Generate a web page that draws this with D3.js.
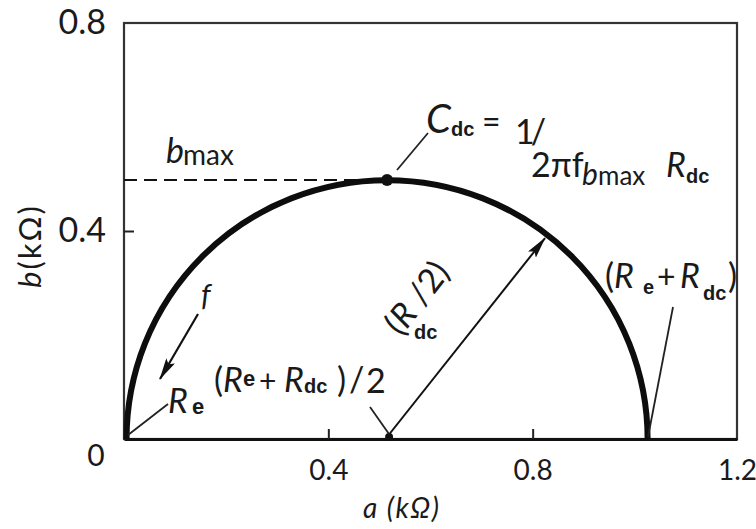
<!DOCTYPE html>
<html>
<head>
<meta charset="utf-8">
<script src="https://cdn.jsdelivr.net/npm/d3@7"></script>
<style>
  body { margin: 0; background: #fff; }
  svg text { font-family: Lato, "Open Sans", sans-serif; fill: #1a1a1a; }
  .sub { font-family: "Liberation Sans", Arial, sans-serif; font-weight: bold; }
</style>
</head>
<body>
<div id="chart"></div>
<script>
// Cole plot: semicircle from Re to Re + Rdc, peak at bmax
const aTicks = [0.4, 0.8, 1.2];
const bTicks = [0.4, 0.8];
const keyA = [0.005, 0.515, 1.025];   // Re, (Re+Rdc)/2, Re+Rdc
const keyB = [0, 0.498, 0];           // b at those points (bmax at the middle)
const radiusAngle = [52];             // direction of the Rdc/2 arrow, degrees

const width = 756, height = 529;
const x = d3.scaleLinear().domain([0, 1.2]).range([124, 737]);
const y = d3.scaleLinear().domain([0, 0.8]).range([439, 23]);

const svg = d3.select('#chart').append('svg')
  .attr('width', width).attr('height', height);

// frame
svg.append('rect')
  .attr('x', x(0)).attr('y', y(0.8))
  .attr('width', x(1.2) - x(0)).attr('height', y(0) - y(0.8))
  .attr('fill', 'none').attr('stroke', '#333').attr('stroke-width', 2.2);

// axes (inward ticks)
const xAxis = svg.append('g').attr('transform', 'translate(0,' + y(0) + ')')
  .call(d3.axisBottom(x).tickValues(aTicks).tickSizeInner(-10).tickSizeOuter(0)
    .tickPadding(21).tickFormat(d3.format('.1f')));
xAxis.select('.domain').attr('stroke', '#111').attr('stroke-width', 3);
xAxis.selectAll('.tick line').attr('stroke', '#222').attr('stroke-width', 2)
  .filter((d) => d === 1.2).remove();
xAxis.selectAll('text').attr('font-size', 28).attr('fill', '#1a1a1a')
  .style('font-family', 'Lato, sans-serif');

const yAxis = svg.append('g').attr('transform', 'translate(' + x(0) + ',0)')
  .call(d3.axisLeft(y).tickValues(bTicks).tickSizeInner(-10).tickSizeOuter(0)
    .tickPadding(18).tickFormat(d3.format('.1f')));
yAxis.select('.domain').remove();
yAxis.selectAll('.tick line').attr('stroke', '#222').attr('stroke-width', 2)
  .filter((d) => d === 0.8).remove();
yAxis.selectAll('text').attr('font-size', 34).attr('fill', '#1a1a1a')
  .style('font-family', 'Lato, sans-serif');

// origin label
svg.append('text').attr('x', x(0) - 28).attr('y', y(0) + 27)
  .attr('text-anchor', 'middle').attr('font-size', 30).text('0');

// axis titles
svg.append('text').attr('x', 363).attr('y', 518).attr('font-size', 28)
  .attr('letter-spacing', 1.5).attr('font-style', 'italic').text('a (kΩ)');
svg.append('text').attr('transform', 'translate(41,246) rotate(-90)')
  .attr('text-anchor', 'middle').attr('font-size', 31).attr('letter-spacing', 2)
  .html('<tspan font-style="italic">b</tspan>(kΩ)');

// bmax dashed line
svg.append('line')
  .attr('x1', x(0)).attr('x2', x(keyA[1]))
  .attr('y1', y(keyB[1])).attr('y2', y(keyB[1]))
  .attr('stroke', '#111').attr('stroke-width', 2).attr('stroke-dasharray', '13,7');

// semicircle
const rx = x(keyA[2]) - x(keyA[1]);
const ry = y(0) - y(keyB[1]);
svg.append('path')
  .attr('d', 'M' + x(keyA[0]) + ',' + y(keyB[0]) +
    ' A' + rx + ',' + ry + ' 0 0 1 ' + x(keyA[2]) + ',' + y(keyB[2]))
  .attr('fill', 'none').attr('stroke', '#0d0d0d').attr('stroke-width', 6);

// bmax dot
svg.append('circle').attr('cx', x(keyA[1])).attr('cy', y(keyB[1])).attr('r', 6)
  .attr('fill', '#111');

// arrow marker
svg.append('defs').append('marker')
  .attr('id', 'head').attr('markerUnits', 'userSpaceOnUse')
  .attr('viewBox', '0 -5 22 10').attr('refX', 21).attr('refY', 0)
  .attr('markerWidth', 22).attr('markerHeight', 10).attr('orient', 'auto')
  .append('path').attr('d', 'M0,-5L22,0L0,5L4,0Z').attr('fill', '#111');

// radius arrow
const ang = radiusAngle[0] * Math.PI / 180;
svg.append('line')
  .attr('x1', x(keyA[1])).attr('y1', y(0) - 2)
  .attr('x2', x(keyA[1]) + (rx - 4) * Math.cos(ang))
  .attr('y2', y(0) - (ry - 4) * Math.sin(ang))
  .attr('stroke', '#111').attr('stroke-width', 2).attr('marker-end', 'url(#head)');
svg.append('circle').attr('cx', x(keyA[1]) + 2).attr('cy', y(0) - 2).attr('r', 4)
  .attr('fill', '#111');

// f arrow
svg.append('line').attr('x1', 198).attr('y1', 314).attr('x2', 160).attr('y2', 379)
  .attr('stroke', '#111').attr('stroke-width', 2.2).attr('marker-end', 'url(#head)');
svg.append('text').attr('x', 201).attr('y', 306).attr('font-size', 30)
  .attr('font-style', 'italic').text('f');

// leader lines
const leaders = [
  [397, 170, 428, 133],
  [128, 435, 168, 404],
  [370, 407, 389, 434],
  [673, 307, 648, 437],
];
svg.selectAll('.leader').data(leaders).enter().append('line')
  .attr('x1', (d) => d[0]).attr('y1', (d) => d[1])
  .attr('x2', (d) => d[2]).attr('y2', (d) => d[3])
  .attr('stroke', '#222').attr('stroke-width', 1.8);

// one text element per label, pieces as tspans [text, x, y, size, kind]
function label(parts) {
  const el = svg.append('text');
  parts.forEach((p) => {
    const s = el.append('tspan').attr('x', p[1]).attr('y', p[2])
      .attr('font-size', p[3]).text(p[0]);
    if (p[4] === 'i') s.attr('font-style', 'italic');
    if (p[4] === 'b') s.attr('class', 'sub');
  });
  return el;
}

label([['b', 166, 163, 34, 'i'], ['max', 183, 165, 28]]);

label([
  ['C', 426, 133, 40, 'i'], ['dc', 451, 136, 20, 'b'], ['=', 482, 133, 32],
]);
label([['1/', 515, 144, 34]]).attr('letter-spacing', -4);
label([
  ['2πf', 531, 177, 34], ['b', 582, 185, 30, 'i'], ['max', 598, 185, 26],
  ['R', 666, 177, 34, 'i'], ['dc', 686, 183, 20, 'b'],
]);

label([
  ['(', 605, 288, 34], ['R', 614, 288, 34, 'i'], ['e', 643, 294, 20, 'b'],
  ['+', 657, 288, 32], ['R', 680, 288, 34, 'i'], ['dc', 703, 300, 20, 'b'],
  [')', 728, 288, 34],
]);

label([['R', 168, 413, 34, 'i'], ['e', 192, 414, 22, 'b']]);
label([
  ['(', 214, 392, 34], ['R', 223, 392, 34, 'i'], ['e', 243, 386, 22, 'b'],
  ['+', 259, 392, 30], ['R', 284, 392, 34, 'i'], ['dc', 304, 393, 20, 'b'],
  [')', 337, 392, 34], ['/', 349, 392, 34], ['2', 366, 393, 34],
]);

// (Rdc/2) along the radius
svg.append('text')
  .attr('transform', 'translate(426,305) rotate(-52)')
  .attr('text-anchor', 'middle').attr('font-size', 34)
  .html('(<tspan font-style="italic">R</tspan>\u2009\u2009/2)');
label([['dc', 414, 339, 20, 'b']]);
</script>
</body>
</html>
